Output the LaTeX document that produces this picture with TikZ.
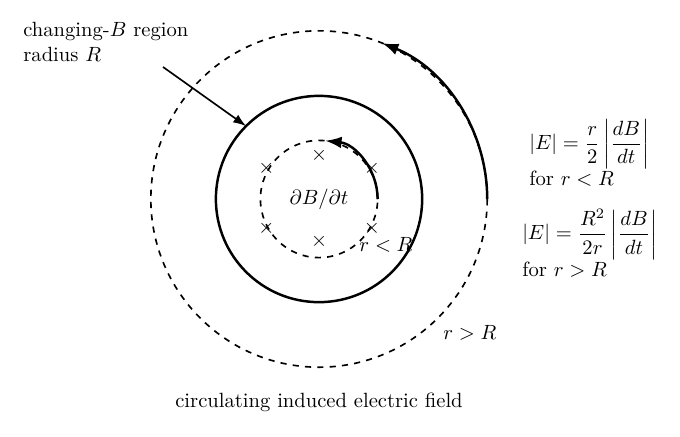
\documentclass[tikz,border=0pt]{standalone}
\usepackage{amsmath}
\usetikzlibrary{arrows.meta, positioning}
\begin{document}
\begin{tikzpicture}[
  fieldline/.style={circle, draw, dashed, thick, inner sep=0pt, outer sep=0pt},
  flow/.style={very thick, -{Latex[length=2.8mm, width=2mm]}},
]
  \useasboundingbox (-5.444,-4.061) rectangle (6.160,3.396);

  % Changing-B region
  \node[circle, draw, very thick, minimum size=3.52cm, inner sep=0pt, outer sep=0pt] (region) at (0,0) {};
  \node (flux) at (0,0) {$\partial B/\partial t$};
  \foreach \x/\y in {0/0.74, -0.9/0.52, 0.9/0.52, -0.9/-0.5, 0.9/-0.5, 0/-0.73}
    \node at (\x,\y) {$\times$};

  % Field loops
  \node[fieldline, minimum size=2cm] (inner) at (0,0) {};
  \node[fieldline, minimum size=5.74cm] (outer) at (0,0) {};
  \draw[flow] (inner.east) arc (0:84:1);
  \draw[flow] (outer.east) arc (0:68:2.87);
  \node (rin) at (1.143,-0.785) {$r<R$};
  \node (rout) at (2.576,-2.287) {$r>R$};

  % Label
  \node[anchor=west, align=left] (label) at (-5.169,2.681) {changing-$B$ region\\radius $R$};
  \coordinate (tail) at (-2.662,2.253);
  \draw[thick, -{Latex[length=2.2mm, width=1.6mm]}] (tail) -- (region.135);

  % Field strength
  \node[anchor=west, align=left] (inrule) at (3.464,0.785) {$|E| = \dfrac{r}{2}\left|\dfrac{dB}{dt}\right|$\\for $r<R$};
  \node[anchor=west, align=left] (outrule) at (3.344,-0.751) {$|E| = \dfrac{R^2}{2r}\left|\dfrac{dB}{dt}\right|$\\for $r>R$};

  % Caption
  \node (caption) at (0,-3.464) {circulating induced electric field};
\end{tikzpicture}
\end{document}
